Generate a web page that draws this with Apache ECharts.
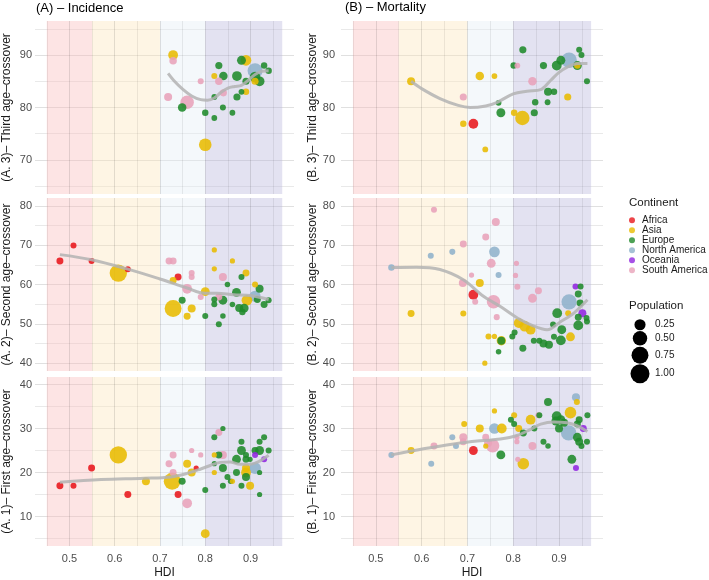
<!DOCTYPE html>
<html>
<head>
<meta charset="utf-8">
<title>Age crossover vs HDI</title>
<script src="https://cdn.jsdelivr.net/npm/echarts@6/dist/echarts.min.js"></script>
<style>
  html, body { margin: 0; padding: 0; background: #fff; }
  #main { width: 709px; height: 580px; }
</style>
</head>
<body>
<div id="main"></div>
<script type="text/javascript">
var FONT = 'Liberation Sans, Arial, Helvetica, sans-serif';

// legend / colour keys
var continents = ['Africa', 'Asia', 'Europe', 'North America', 'Oceania', 'South America'];
var codes = ['AF', 'AS', 'EU', 'NA', 'OC', 'SA'];
var continentColors = ['#e8161b', '#e8bb00', '#1f8a2a', '#8fb2cb', '#9125e0', '#e8a2b9'];
var popTicks = [0.25, 0.50, 0.75, 1.00];

// HDI shading bands
var hdiBands = [[0.45, 0.55], [0.55, 0.70], [0.70, 0.80], [0.80, 0.97]];
var bandColors = ['rgba(250,188,188,0.4)', 'rgba(252,230,188,0.4)', 'rgba(228,238,245,0.4)', 'rgba(185,183,220,0.4)'];
// vertical grid positions (major and minor)
var hdiMajor = [0.5, 0.6, 0.7, 0.8, 0.9];
var hdiMinor = [0.45, 0.55, 0.65, 0.75, 0.85, 0.95];

// [HDI, age, continent, population (relative)]
var incThird = [
  [0.729, 90, 'AS', 0.17], [0.729, 88.9, 'SA', 0.07], [0.718, 82, 'SA', 0.09], [0.760, 81, 'SA', 0.42],
  [0.749, 80, 'EU', 0.11], [0.790, 85, 'SA', 0.03], [0.800, 72.9, 'AS', 0.35], [0.800, 79, 'EU', 0.04],
  [0.820, 78, 'EU', 0.025], [0.820, 82, 'EU', 0.025], [0.839, 80, 'EU', 0.03], [0.860, 79, 'EU', 0.025],
  [0.820, 86, 'AS', 0.03], [0.830, 85, 'SA', 0.07], [0.830, 88, 'EU', 0.06], [0.840, 86, 'EU', 0.11],
  [0.840, 82.8, 'SA', 0.06], [0.870, 86, 'EU', 0.17], [0.870, 82, 'EU', 0.06], [0.880, 83, 'EU', 0.025],
  [0.890, 83, 'AS', 0.04], [0.880, 89, 'EU', 0.13], [0.890, 89, 'AS', 0.22], [0.890, 85, 'EU', 0.06],
  [0.910, 85.8, 'EU', 0.22], [0.910, 87, 'NA', 0.55], [0.910, 85, 'AS', 0.06], [0.920, 85, 'EU', 0.17],
  [0.930, 88, 'EU', 0.04], [0.940, 87, 'EU', 0.04]
];
var incThirdSmooth = [
  [0.718, 86.5], [0.73, 85.2], [0.75, 83.5], [0.77, 82.2], [0.79, 81.5], [0.805, 81.4], [0.82, 81.8],
  [0.835, 82.9], [0.85, 83.7], [0.865, 84], [0.88, 84.2], [0.895, 85.2], [0.91, 86.3], [0.925, 86.9], [0.94, 87]
];

var morThird = [
  [0.577, 85, 'AS', 0.09], [0.691, 82, 'SA', 0.06], [0.727, 86, 'AS', 0.11], [0.759, 86, 'AS', 0.025],
  [0.691, 76.9, 'AS', 0.04], [0.713, 76.9, 'AF', 0.17], [0.739, 72, 'AS', 0.025], [0.768, 80.9, 'EU', 0.025],
  [0.773, 79, 'EU', 0.13], [0.802, 79, 'AS', 0.04], [0.820, 78, 'AS', 0.5], [0.846, 79, 'EU', 0.06],
  [0.848, 81, 'EU', 0.04], [0.875, 81, 'EU', 0.025], [0.842, 85, 'SA', 0.11], [0.876, 83, 'EU', 0.09],
  [0.889, 83, 'EU', 0.04], [0.919, 82, 'AS', 0.06], [0.801, 88, 'EU', 0.04], [0.809, 88, 'SA', 0.025],
  [0.821, 91, 'EU', 0.06], [0.866, 88, 'EU', 0.06], [0.895, 88, 'EU', 0.17], [0.904, 89, 'EU', 0.13],
  [0.922, 89, 'NA', 0.6], [0.940, 88, 'EU', 0.13], [0.940, 88, 'AS', 0.04], [0.944, 91, 'EU', 0.03],
  [0.949, 90, 'EU', 0.03], [0.961, 85, 'EU', 0.03]
];
var morThirdSmooth = [
  [0.577, 85], [0.60, 83.6], [0.64, 81.7], [0.68, 80.4], [0.706, 80], [0.74, 80.3], [0.765, 81],
  [0.80, 82.6], [0.83, 83.1], [0.86, 83.4], [0.882, 85.2], [0.90, 86.7], [0.918, 87.7], [0.94, 88.4], [0.962, 88.4]
];

var incSecond = [
  [0.479, 66, 'AF', 0.055], [0.509, 69.9, 'AF', 0.03], [0.549, 66, 'AF', 0.03], [0.629, 63.9, 'AF', 0.03],
  [0.608, 62.9, 'AS', 0.8], [0.720, 66, 'SA', 0.055], [0.729, 66, 'SA', 0.055], [0.740, 61.9, 'AF', 0.055],
  [0.729, 61, 'AS', 0.055], [0.770, 62.9, 'SA', 0.03], [0.770, 61.9, 'SA', 0.03], [0.760, 58.9, 'SA', 0.17],
  [0.729, 53.9, 'AS', 0.75], [0.749, 56, 'EU', 0.055], [0.770, 53.9, 'AS', 0.09], [0.760, 51.9, 'AS', 0.055],
  [0.790, 56.8, 'SA', 0.03], [0.800, 58.2, 'AS', 0.125], [0.800, 52, 'EU', 0.03], [0.820, 68.8, 'AS', 0.015],
  [0.820, 64, 'AS', 0.015], [0.820, 56.2, 'EU', 0.03], [0.820, 55, 'EU', 0.03], [0.830, 56.8, 'SA', 0.055],
  [0.830, 49.9, 'EU', 0.03], [0.839, 52, 'EU', 0.02], [0.839, 61.9, 'SA', 0.09], [0.839, 56, 'EU', 0.125],
  [0.849, 60, 'EU', 0.02], [0.860, 66, 'AS', 0.015], [0.860, 54.9, 'EU', 0.02], [0.869, 58, 'EU', 0.125],
  [0.875, 54, 'EU', 0.09], [0.882, 53, 'EU', 0.04], [0.886, 54, 'EU', 0.125], [0.880, 61.9, 'EU', 0.03],
  [0.890, 62.9, 'AS', 0.055], [0.892, 56, 'AS', 0.22], [0.910, 60, 'AS', 0.03], [0.910, 57, 'NA', 0.25],
  [0.920, 58.9, 'EU', 0.09], [0.915, 56.2, 'EU', 0.055], [0.930, 54.9, 'EU', 0.055], [0.940, 56, 'EU', 0.03]
];
var incSecondSmooth = [
  [0.479, 67.6], [0.549, 66.3], [0.629, 63.9], [0.70, 61.4], [0.76, 59.1], [0.799, 57.8],
  [0.826, 57.8], [0.863, 57.4], [0.899, 57.2], [0.94, 56.2]
];

var morSecond = [
  [0.534, 64.3, 'NA', 0.04], [0.577, 52.6, 'AS', 0.055], [0.620, 67.3, 'NA', 0.03], [0.627, 79, 'SA', 0.03],
  [0.667, 68.3, 'NA', 0.03], [0.691, 70.3, 'SA', 0.055], [0.690, 60.4, 'SA', 0.09], [0.691, 52.6, 'AS', 0.03],
  [0.709, 62.4, 'SA', 0.015], [0.727, 60.4, 'AS', 0.09], [0.713, 57.4, 'AF', 0.17], [0.717, 55.6, 'SA', 0.03],
  [0.740, 72.1, 'SA', 0.055], [0.762, 75.9, 'SA', 0.09], [0.759, 68.3, 'NA', 0.22], [0.752, 65.4, 'SA', 0.125],
  [0.768, 62.4, 'NA', 0.03], [0.757, 55.6, 'SA', 0.42], [0.764, 51.7, 'SA', 0.03], [0.746, 46.8, 'AS', 0.03],
  [0.759, 46.8, 'AS', 0.015], [0.774, 45.7, 'AS', 0.15], [0.774, 45.7, 'EU', 0.09], [0.768, 42.9, 'EU', 0.02],
  [0.738, 40, 'AS', 0.015], [0.805, 62.3, 'SA', 0.015], [0.809, 59.4, 'SA', 0.03], [0.807, 65.4, 'SA', 0.015],
  [0.842, 56.5, 'SA', 0.125], [0.855, 58.4, 'SA', 0.055], [0.798, 46.8, 'EU', 0.03], [0.803, 47.8, 'EU', 0.03],
  [0.812, 50.2, 'AS', 0.17], [0.825, 49.4, 'AS', 0.22], [0.838, 48.5, 'AS', 0.17], [0.821, 43.8, 'EU', 0.055],
  [0.845, 45.7, 'EU', 0.03], [0.857, 45.7, 'EU', 0.03], [0.866, 45, 'EU', 0.09], [0.878, 44.7, 'EU', 0.09],
  [0.887, 49.8, 'EU', 0.03], [0.889, 46.7, 'EU', 0.03], [0.904, 45.8, 'EU', 0.17], [0.906, 48.5, 'EU', 0.125],
  [0.896, 52.7, 'EU', 0.17], [0.925, 46.7, 'AS', 0.125], [0.922, 55.6, 'NA', 0.58], [0.942, 49.6, 'EU', 0.17],
  [0.942, 51.7, 'EU', 0.055], [0.936, 59.5, 'OC', 0.03], [0.951, 52.7, 'OC', 0.09], [0.947, 59.5, 'EU', 0.03],
  [0.942, 57.6, 'EU', 0.055], [0.946, 55.3, 'EU', 0.055], [0.920, 52.7, 'AS', 0.03], [0.960, 51.5, 'EU', 0.03],
  [0.961, 50.6, 'EU', 0.03]
];
var morSecondSmooth = [
  [0.534, 64.3], [0.589, 64.4], [0.64, 63.8], [0.691, 61.2], [0.735, 57], [0.772, 54.4], [0.809, 51.5],
  [0.845, 49.4], [0.874, 48.5], [0.904, 50.6], [0.933, 52.8], [0.962, 56.1]
];

var incFirst = [
  [0.479, 17, 'AF', 0.055], [0.509, 17, 'AF', 0.03], [0.549, 21, 'AF', 0.055], [0.629, 15, 'AF', 0.055],
  [0.608, 24, 'AS', 0.8], [0.669, 18, 'AS', 0.09], [0.720, 22, 'SA', 0.055], [0.729, 24, 'SA', 0.055],
  [0.729, 20, 'SA', 0.055], [0.727, 18, 'AS', 0.75], [0.740, 15, 'AF', 0.055], [0.749, 18, 'EU', 0.055],
  [0.760, 13, 'SA', 0.17], [0.760, 22, 'AS', 0.09], [0.770, 20, 'AS', 0.09], [0.770, 25, 'SA', 0.015],
  [0.780, 21, 'AF', 0.015], [0.790, 24, 'SA', 0.015], [0.800, 6.1, 'AS', 0.125], [0.800, 16, 'EU', 0.03],
  [0.820, 28, 'EU', 0.03], [0.820, 24, 'AS', 0.015], [0.820, 20, 'AS', 0.015], [0.820, 22, 'EU', 0.015],
  [0.830, 29.1, 'SA', 0.055], [0.830, 24, 'EU', 0.055], [0.839, 24, 'SA', 0.09], [0.839, 30, 'EU', 0.015],
  [0.839, 21, 'EU', 0.09], [0.839, 17, 'EU', 0.03], [0.849, 19, 'EU', 0.03], [0.860, 18, 'AS', 0.015],
  [0.856, 18, 'EU', 0.02], [0.869, 23, 'EU', 0.125], [0.869, 20, 'EU', 0.055], [0.880, 27, 'EU', 0.03],
  [0.880, 25, 'EU', 0.125], [0.880, 17, 'EU', 0.03], [0.890, 24, 'EU', 0.03], [0.890, 23, 'EU', 0.055],
  [0.890, 21, 'AS', 0.09], [0.890, 20, 'AS', 0.17], [0.890, 19, 'EU', 0.09], [0.899, 17, 'AS', 0.09],
  [0.899, 23, 'EU', 0.015], [0.910, 21, 'NA', 0.3], [0.910, 24, 'OC', 0.03], [0.930, 23, 'OC', 0.03],
  [0.910, 25, 'EU', 0.055], [0.920, 25, 'EU', 0.125], [0.920, 27, 'EU', 0.03], [0.930, 28, 'EU', 0.03],
  [0.940, 25, 'EU', 0.03], [0.920, 20, 'EU', 0.015], [0.920, 15, 'EU', 0.015]
];
var incFirstSmooth = [
  [0.479, 17.8], [0.57, 18.4], [0.665, 18.7], [0.724, 19], [0.76, 19.8], [0.79, 20.8], [0.811, 21.6],
  [0.833, 22.3], [0.855, 22.4], [0.876, 21.9], [0.899, 21.9], [0.92, 22.6], [0.94, 23.9]
];

var morFirst = [
  [0.534, 24, 'NA', 0.03], [0.577, 25, 'AS', 0.055], [0.621, 22, 'NA', 0.03], [0.627, 26, 'SA', 0.055],
  [0.667, 28, 'NA', 0.03], [0.675, 26, 'NA', 0.03], [0.691, 28, 'SA', 0.09], [0.691, 27, 'SA', 0.055],
  [0.693, 31, 'AS', 0.03], [0.713, 25, 'AF', 0.125], [0.727, 30, 'AS', 0.09], [0.740, 28, 'SA', 0.055],
  [0.740, 26, 'AS', 0.015], [0.759, 30, 'NA', 0.22], [0.755, 26.1, 'SA', 0.42], [0.745, 26.7, 'SA', 0.09],
  [0.775, 30, 'AS', 0.17], [0.759, 34, 'AS', 0.015], [0.773, 24, 'EU', 0.125], [0.802, 33, 'AS', 0.03],
  [0.795, 32, 'EU', 0.03], [0.802, 31, 'EU', 0.03], [0.808, 28, 'SA', 0.015], [0.808, 27, 'SA', 0.015],
  [0.812, 30, 'AS', 0.055], [0.822, 29, 'EU', 0.055], [0.810, 23, 'SA', 0.015], [0.822, 22, 'AS', 0.28],
  [0.842, 26, 'SA', 0.09], [0.838, 32, 'AS', 0.17], [0.855, 33, 'SA', 0.03], [0.857, 33, 'EU', 0.03],
  [0.846, 30, 'EU', 0.03], [0.866, 27, 'EU', 0.03], [0.876, 26, 'EU', 0.02], [0.876, 36, 'EU', 0.09],
  [0.895, 32.8, 'EU', 0.17], [0.904, 32, 'EU', 0.125], [0.893, 31.7, 'EU', 0.125], [0.900, 30, 'EU', 0.09],
  [0.911, 31.3, 'EU', 0.09], [0.925, 33.6, 'AS', 0.28], [0.921, 29, 'NA', 0.6], [0.937, 37.1, 'NA', 0.09],
  [0.939, 36, 'AS', 0.03], [0.928, 23, 'EU', 0.125], [0.937, 21, 'OC', 0.03], [0.962, 33, 'EU', 0.03],
  [0.953, 30, 'OC', 0.055], [0.944, 32, 'EU', 0.055], [0.940, 31, 'EU', 0.055], [0.940, 28, 'EU', 0.125],
  [0.944, 27, 'EU', 0.09], [0.949, 26, 'EU', 0.03], [0.961, 27, 'EU', 0.03]
];
var morFirstSmooth = [
  [0.534, 24], [0.604, 25.4], [0.67, 26.5], [0.728, 27.2], [0.772, 27.6], [0.808, 28.4], [0.838, 29.8],
  [0.86, 31], [0.889, 31.5], [0.918, 31.3], [0.94, 30.6], [0.962, 29.3]
];

var panels = [
  { col: 0, row: 0, data: incThird, smooth: incThirdSmooth, yName: '(A. 3)\u2013 Third age\u2013crossover' },
  { col: 1, row: 0, data: morThird, smooth: morThirdSmooth, yName: '(B. 3)\u2013 Third age\u2013crossover' },
  { col: 0, row: 1, data: incSecond, smooth: incSecondSmooth, yName: '(A. 2)\u2013 Second age\u2013crossover' },
  { col: 1, row: 1, data: morSecond, smooth: morSecondSmooth, yName: '(B. 2)\u2013 Second age\u2013crossover' },
  { col: 0, row: 2, data: incFirst, smooth: incFirstSmooth, yName: '(A. 1)\u2013 First age\u2013crossover' },
  { col: 1, row: 2, data: morFirst, smooth: morFirstSmooth, yName: '(B. 1)\u2013 First age\u2013crossover' }
];

// layout
var colLeft = [34, 341], colWidth = [260, 262];
var rowTop = [21, 198, 377], rowHeight = 173;
var rowY = [[63.5, 96.5], [38, 82], [3.3, 41.7]];
var xRange = [0.424, 0.996];

function sizeOf(p) { return 3.3 + 15.7 * Math.sqrt(p); }

var grids = [], xAxes = [], yAxes = [], series = [];

panels.forEach(function (pn, i) {
  var bottom = pn.row === 2;
  grids.push({ left: colLeft[pn.col], top: rowTop[pn.row], width: colWidth[pn.col], height: rowHeight });

  xAxes.push({
    gridIndex: i, type: 'value', min: xRange[0], max: xRange[1],
    minInterval: 0.1, maxInterval: 0.1, splitNumber: 5,
    name: bottom ? 'HDI' : '', nameLocation: 'middle', nameGap: 21,
    nameTextStyle: { color: '#1a1a1a', fontSize: 12, fontFamily: FONT },
    axisLine: { show: false }, axisTick: { show: false },
    axisLabel: { show: bottom, color: '#4d4d4d', fontSize: 11, fontFamily: FONT, margin: 7,
      showMinLabel: false, showMaxLabel: false },
    splitLine: { show: false }
  });

  yAxes.push({
    gridIndex: i, type: 'value', min: rowY[pn.row][0], max: rowY[pn.row][1],
    minInterval: 10, maxInterval: 10, splitNumber: 4,
    name: pn.yName, nameLocation: 'middle', nameGap: 22, nameRotate: 90,
    nameTextStyle: { color: '#1a1a1a', fontSize: 12, fontFamily: FONT },
    axisLine: { show: false }, axisTick: { show: false },
    axisLabel: { color: '#4d4d4d', fontSize: 11, fontFamily: FONT, margin: pn.col ? 6 : 3,
      showMinLabel: false, showMaxLabel: false },
    splitLine: { show: true, showMinLine: false, showMaxLine: false, lineStyle: { color: '#e0e0e0', width: 1 } },
    minorTick: { show: false, splitNumber: 2 },
    minorSplitLine: { show: true, lineStyle: { color: '#e9e9e9', width: 1 } }
  });

  // HDI bands
  series.push({
    type: 'line', xAxisIndex: i, yAxisIndex: i, data: [], silent: true,
    markArea: {
      silent: true,
      data: hdiBands.map(function (b, k) {
        return [{ xAxis: b[0], itemStyle: { color: bandColors[k] } }, { xAxis: b[1] }];
      })
    }
  });

  // vertical HDI grid, kept under the points
  series.push({
    type: 'line', xAxisIndex: i, yAxisIndex: i, data: [], silent: true,
    markLine: {
      silent: true, z: 2, symbol: 'none', label: { show: false }, animation: false,
      data: hdiMinor.map(function (v) {
        return { xAxis: v, lineStyle: { color: 'rgba(0,0,0,0.07)', width: 1, type: 'solid' } };
      }).concat(hdiMajor.map(function (v) {
        return { xAxis: v, lineStyle: { color: 'rgba(0,0,0,0.11)', width: 1, type: 'solid' } };
      }))
    }
  });

  // points: bigger first so small ones stay visible
  var pts = pn.data.map(function (d) {
    return [d[0], d[1], codes.indexOf(d[2]), d[3]];
  }).sort(function (a, b) { return b[3] - a[3]; });

  series.push({
    type: 'scatter', xAxisIndex: i, yAxisIndex: i, z: 6,
    data: pts,
    symbolSize: function (v) { return sizeOf(v[3]); },
    itemStyle: {
      opacity: 0.88,
      color: function (p) { return continentColors[p.value[2]]; }
    }
  });

  // loess trend
  series.push({
    type: 'line', xAxisIndex: i, yAxisIndex: i, z: 7,
    data: pn.smooth, smooth: 0.35, showSymbol: false, silent: true,
    lineStyle: { color: '#b3b3b3', width: 3, opacity: 0.85 }
  });
});

// empty series carrying the continent legend entries
continents.forEach(function (c, k) {
  series.push({ type: 'scatter', name: c, xAxisIndex: 0, yAxisIndex: 0, data: [],
    itemStyle: { color: continentColors[k] } });
});

var popY = [324.7, 338.3, 355.3, 373.7];
var graphics = [];
popTicks.forEach(function (p, k) {
  graphics.push({ type: 'circle', shape: { cx: 640, cy: popY[k], r: sizeOf(p) / 2 }, style: { fill: '#000' }, silent: true });
  graphics.push({ type: 'text', x: 655, y: popY[k], silent: true,
    style: { text: p.toFixed(2), fill: '#1a1a1a', font: '10px ' + FONT, textVerticalAlign: 'middle' } });
});

var chart = echarts.init(document.getElementById('main'), null, { renderer: 'canvas' });
chart.setOption({
  animation: false,
  backgroundColor: '#fff',
  title: [
    { text: '(A) \u2013 Incidence', left: 36, top: 1.5, padding: 0,
      textStyle: { fontSize: 13, fontWeight: 'normal', color: '#000', fontFamily: FONT } },
    { text: '(B) \u2013 Mortality', left: 345, top: 1, padding: 0,
      textStyle: { fontSize: 13, fontWeight: 'normal', color: '#000', fontFamily: FONT } },
    { text: 'Continent', left: 629, top: 197, padding: 0,
      textStyle: { fontSize: 11.5, fontWeight: 'normal', color: '#1a1a1a', fontFamily: FONT } },
    { text: 'Population', left: 629, top: 300, padding: 0,
      textStyle: { fontSize: 11.5, fontWeight: 'normal', color: '#1a1a1a', fontFamily: FONT } }
  ],
  legend: {
    data: continents, orient: 'vertical', left: 629, top: 215.3, padding: 0,
    icon: 'circle', itemWidth: 10, itemHeight: 6, itemGap: 0, selectedMode: false,
    textStyle: { fontSize: 10, lineHeight: 10, color: '#1a1a1a', fontFamily: FONT }
  },
  grid: grids,
  xAxis: xAxes,
  yAxis: yAxes,
  series: series,
  graphic: graphics
});
</script>
</body>
</html>
